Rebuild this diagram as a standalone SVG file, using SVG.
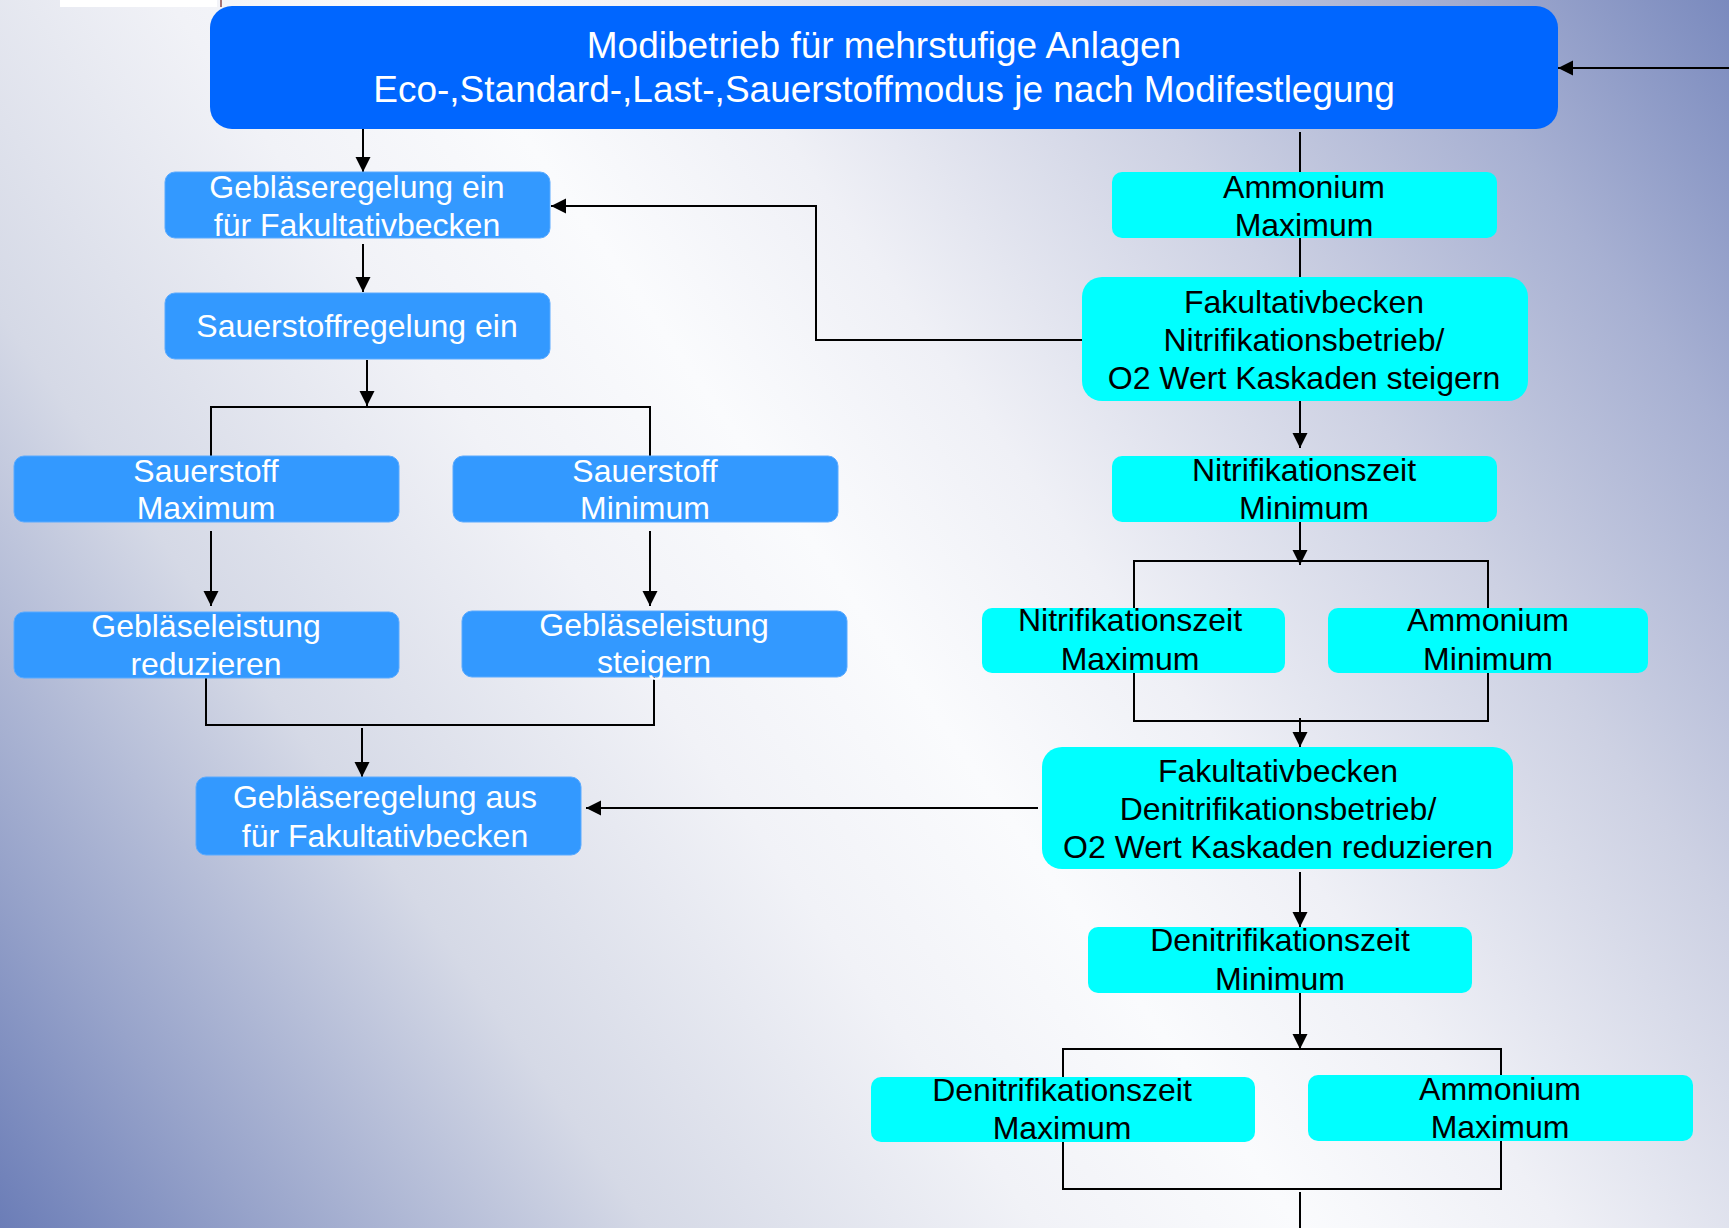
<svg xmlns="http://www.w3.org/2000/svg" width="1729" height="1228" viewBox="0 0 1729 1228">
<defs>
<linearGradient id="bg" gradientUnits="userSpaceOnUse" x1="0" y1="1228" x2="1729" y2="0">
<stop offset="0" stop-color="#6b7db7"/>
<stop offset="0.1" stop-color="#97a3ca"/>
<stop offset="0.25" stop-color="#d5d9e6"/>
<stop offset="0.4" stop-color="#f1f2f7"/>
<stop offset="0.5" stop-color="#fafbfd"/>
<stop offset="0.6" stop-color="#eff0f6"/>
<stop offset="0.75" stop-color="#cdd1e3"/>
<stop offset="0.88" stop-color="#a7b0d2"/>
<stop offset="1" stop-color="#7a8abe"/>
</linearGradient>
<marker id="arr" markerUnits="userSpaceOnUse" markerWidth="16" markerHeight="16" refX="15" refY="7.5" orient="auto">
<path d="M0,0 L15,7.5 L0,15 z" fill="#000"/>
</marker>
</defs>
<style>
.conn path{fill:none;stroke:#000;stroke-width:2}
.a{marker-end:url(#arr)}
.blue rect{fill:#3399ff;stroke:#5aaaff;stroke-width:1}
.cyan rect{fill:#00ffff}
text{font-family:"Liberation Sans",Arial,sans-serif;text-anchor:middle}
.blue text{fill:#fff;font-size:32px}
.cyan text{fill:#000;font-size:32px}
.top text{fill:#fff;font-size:37px}
</style>
<rect x="0" y="0" width="1729" height="1228" fill="url(#bg)"/>
<rect x="60" y="0" width="157" height="7" fill="#fff"/>
<line x1="221" y1="0" x2="221" y2="7" stroke="#8b4a4a" stroke-width="1.5"/>

<g class="conn">
<path class="a" d="M1729,68 H1558"/>
<path class="a" d="M363,129 V172"/>
<path class="a" d="M363,244 V292"/>
<path class="a" d="M367,360 V406"/>
<path d="M211,456 V407 H650 V456"/>
<path class="a" d="M211,531 V606"/>
<path class="a" d="M650,531 V606"/>
<path d="M206,678 V725 H654 V676"/>
<path class="a" d="M362,728 V777"/>
<path class="a" d="M1038,808 H586"/>
<path d="M1300,132 V172"/>
<path d="M1300,238 V277"/>
<path class="a" d="M1082,340 H816 V206 H551"/>
<path class="a" d="M1300,401 V448"/>
<path class="a" d="M1300,522 V565"/>
<path d="M1134,608 V561 H1488 V608"/>
<path d="M1134,673 V721 H1488 V673"/>
<path class="a" d="M1300,718 V747"/>
<path class="a" d="M1300,872 V927"/>
<path class="a" d="M1300,993 V1049"/>
<path d="M1063,1077 V1049 H1501 V1075"/>
<path d="M1063,1142 V1189 H1501 V1141"/>
<path d="M1300,1192 V1228"/>
</g>

<g id="modibetrieb" class="top">
<rect x="210" y="6" width="1348" height="123" rx="22" fill="#0066ff"/>
<text x="884" y="58">Modibetrieb für mehrstufige Anlagen</text>
<text x="884" y="102">Eco-,Standard-,Last-,Sauerstoffmodus je nach Modifestlegung</text>
</g>

<g id="geblaese-ein" class="blue">
<rect x="165" y="172" width="385" height="66" rx="10"/>
<text x="357" y="198">Gebläseregelung ein</text>
<text x="357" y="236">für Fakultativbecken</text>
</g>
<g id="sauerstoffregelung" class="blue">
<rect x="165" y="293" width="385" height="66" rx="10"/>
<text x="357" y="337">Sauerstoffregelung ein</text>
</g>
<g id="sauerstoff-max" class="blue">
<rect x="14" y="456" width="385" height="66" rx="10"/>
<text x="206" y="482">Sauerstoff</text>
<text x="206" y="519">Maximum</text>
</g>
<g id="sauerstoff-min" class="blue">
<rect x="453" y="456" width="385" height="66" rx="10"/>
<text x="645" y="482">Sauerstoff</text>
<text x="645" y="519">Minimum</text>
</g>
<g id="geblaese-reduzieren" class="blue">
<rect x="14" y="612" width="385" height="66" rx="10"/>
<text x="206" y="637">Gebläseleistung</text>
<text x="206" y="675">reduzieren</text>
</g>
<g id="geblaese-steigern" class="blue">
<rect x="462" y="611" width="385" height="66" rx="10"/>
<text x="654" y="636">Gebläseleistung</text>
<text x="654" y="673">steigern</text>
</g>
<g id="geblaese-aus" class="blue">
<rect x="196" y="777" width="385" height="78" rx="10"/>
<text x="385" y="808">Gebläseregelung aus</text>
<text x="385" y="847">für Fakultativbecken</text>
</g>

<g id="ammonium-max-1" class="cyan">
<rect x="1112" y="172" width="385" height="66" rx="10"/>
<text x="1304" y="198">Ammonium</text>
<text x="1304" y="236">Maximum</text>
</g>
<g id="fakultativ-nitri" class="cyan">
<rect x="1082" y="277" width="446" height="124" rx="20"/>
<text x="1304" y="313">Fakultativbecken</text>
<text x="1304" y="351">Nitrifikationsbetrieb/</text>
<text x="1304" y="389">O2 Wert Kaskaden steigern</text>
</g>
<g id="nitrizeit-min" class="cyan">
<rect x="1112" y="456" width="385" height="66" rx="10"/>
<text x="1304" y="481">Nitrifikationszeit</text>
<text x="1304" y="519">Minimum</text>
</g>
<g id="nitrizeit-max" class="cyan">
<rect x="982" y="608" width="303" height="65" rx="10"/>
<text x="1130" y="631">Nitrifikationszeit</text>
<text x="1130" y="670">Maximum</text>
</g>
<g id="ammonium-min" class="cyan">
<rect x="1328" y="608" width="320" height="65" rx="10"/>
<text x="1488" y="631">Ammonium</text>
<text x="1488" y="670">Minimum</text>
</g>
<g id="fakultativ-denitri" class="cyan">
<rect x="1042" y="747" width="471" height="122" rx="20"/>
<text x="1278" y="782">Fakultativbecken</text>
<text x="1278" y="820">Denitrifikationsbetrieb/</text>
<text x="1278" y="858">O2 Wert Kaskaden reduzieren</text>
</g>
<g id="denitrizeit-min" class="cyan">
<rect x="1088" y="927" width="384" height="66" rx="10"/>
<text x="1280" y="951">Denitrifikationszeit</text>
<text x="1280" y="990">Minimum</text>
</g>
<g id="denitrizeit-max" class="cyan">
<rect x="871" y="1077" width="384" height="65" rx="10"/>
<text x="1062" y="1101">Denitrifikationszeit</text>
<text x="1062" y="1139">Maximum</text>
</g>
<g id="ammonium-max-2" class="cyan">
<rect x="1308" y="1075" width="385" height="66" rx="10"/>
<text x="1500" y="1100">Ammonium</text>
<text x="1500" y="1138">Maximum</text>
</g>
</svg>
